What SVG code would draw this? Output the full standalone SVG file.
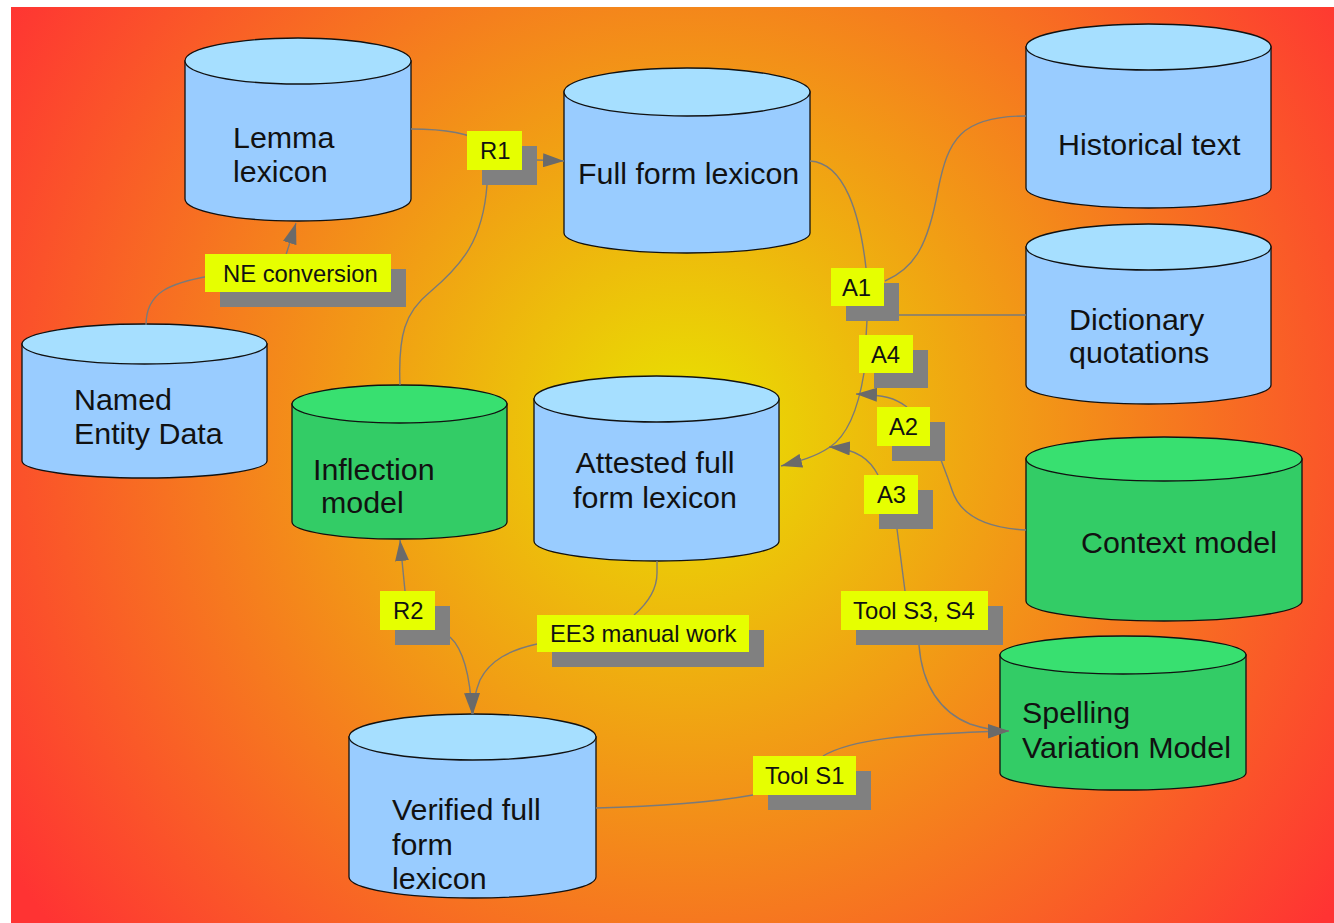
<svg xmlns="http://www.w3.org/2000/svg" width="1334" height="923" viewBox="0 0 1334 923">
<defs>
<radialGradient id="bg" gradientUnits="userSpaceOnUse" cx="685" cy="430" r="805">
<stop offset="0" stop-color="#e8e400"/>
<stop offset="1" stop-color="#ff3333"/>
</radialGradient>
<marker id="arr" markerUnits="userSpaceOnUse" markerWidth="21" markerHeight="14" refX="21" refY="7" orient="auto">
<path d="M0,0 L21,7 L0,14 Z" fill="#6a6a6a"/>
</marker>
<style>
.body-b{fill:#99ccff;stroke:#111;stroke-width:1.3}
.top-b{fill:#a6dfff;stroke:#111;stroke-width:1.3}
.body-g{fill:#33cc66;stroke:#111;stroke-width:1.3}
.top-g{fill:#38e070;stroke:#111;stroke-width:1.3}
.t{font-family:"Liberation Sans",Arial,sans-serif;font-size:30.4px;fill:#111}
.lt{font-family:"Liberation Sans",Arial,sans-serif;font-size:23.8px;fill:#111}
.lab{fill:#e6ff00}
.sh{fill:#808080}
.c{fill:none;stroke:#7a7a7a;stroke-width:1.4}
</style>
</defs>
<rect x="0" y="0" width="1334" height="923" fill="#ffffff"/>
<rect x="11" y="7" width="1323" height="916" fill="url(#bg)"/>

<g id="lemma-lexicon">
<path class="body-b" d="M185,61 V199 A113,22 0 0 0 411,199 V61 Z"/>
<ellipse class="top-b" cx="298" cy="61" rx="113" ry="23"/>
<text class="t" x="233" y="148">Lemma</text>
<text class="t" x="233" y="182">lexicon</text>
</g>
<g id="full-form-lexicon">
<path class="body-b" d="M564,92 V233 A123,20 0 0 0 810,233 V92 Z"/>
<ellipse class="top-b" cx="687" cy="92" rx="123" ry="24"/>
<text class="t" x="578" y="184">Full form lexicon</text>
</g>
<g id="historical-text">
<path class="body-b" d="M1026,47 V188 A122.5,20 0 0 0 1271,188 V47 Z"/>
<ellipse class="top-b" cx="1148.5" cy="47" rx="122.5" ry="23"/>
<text class="t" x="1058" y="155">Historical text</text>
</g>
<g id="dictionary-quotations">
<path class="body-b" d="M1026,247 V385 A122.5,19 0 0 0 1271,385 V247 Z"/>
<ellipse class="top-b" cx="1148.5" cy="247" rx="122.5" ry="23"/>
<text class="t" x="1069" y="330">Dictionary</text>
<text class="t" x="1069" y="363">quotations</text>
</g>
<g id="named-entity-data">
<path class="body-b" d="M22,344 V461 A122.5,17 0 0 0 267,461 V344 Z"/>
<ellipse class="top-b" cx="144.5" cy="344" rx="122.5" ry="20"/>
<text class="t" x="74" y="410">Named</text>
<text class="t" x="74" y="444">Entity Data</text>
</g>
<g id="inflection-model">
<path class="body-g" d="M292,404 V522 A107.5,17 0 0 0 507,522 V404 Z"/>
<ellipse class="top-g" cx="399.5" cy="404" rx="107.5" ry="19"/>
<text class="t" x="313" y="480">Inflection</text>
<text class="t" x="321" y="513">model</text>
</g>
<g id="attested-full-form-lexicon">
<path class="body-b" d="M534,399 V541 A122.5,20 0 0 0 779,541 V399 Z"/>
<ellipse class="top-b" cx="656.5" cy="399" rx="122.5" ry="23"/>
<text class="t" x="655" y="473" text-anchor="middle">Attested full</text>
<text class="t" x="655" y="508" text-anchor="middle">form lexicon</text>
</g>
<g id="verified-full-form-lexicon">
<path class="body-b" d="M349,737 V877 A123.5,21 0 0 0 596,877 V737 Z"/>
<ellipse class="top-b" cx="472.5" cy="737" rx="123.5" ry="23"/>
<text class="t" x="392" y="820">Verified full</text>
<text class="t" x="392" y="855">form</text>
<text class="t" x="392" y="889">lexicon</text>
</g>
<g id="context-model">
<path class="body-g" d="M1026,459 V601 A138,20 0 0 0 1302,601 V459 Z"/>
<ellipse class="top-g" cx="1164" cy="459" rx="138" ry="22"/>
<text class="t" x="1081" y="553">Context model</text>
</g>
<g id="spelling-variation-model">
<path class="body-g" d="M1000,655 V773 A123,17 0 0 0 1246,773 V655 Z"/>
<ellipse class="top-g" cx="1123" cy="655" rx="123" ry="19"/>
<text class="t" x="1022" y="723">Spelling</text>
<text class="t" x="1022" y="758">Variation Model</text>
</g>

<g id="connectors">
<path class="c" marker-end="url(#arr)" d="M411,129 C445,129 470,133 490,145 C505,155 520,160 537,160 L564,161"/>
<path class="c" d="M400,385 C398,335 405,312 430,292 C462,265 483,240 487,185"/>
<path class="c" marker-end="url(#arr)" d="M146,325 C146,292 170,283 210,276 L285,258 L296,223"/>
<path class="c" d="M810,161 C845,163 860,215 866,268"/>
<path class="c" d="M1026,116 C960,116 948,140 938,190 C928,245 915,268 885,281"/>
<path class="c" d="M1026,315 L898,315"/>
<path class="c" marker-end="url(#arr)" d="M867,320 L864,373 C858,410 848,435 830,447 C815,457 800,461 781,466"/>
<path class="c" marker-end="url(#arr)" d="M1026,530 C985,528 960,515 952,490 C947,475 944,468 941,460 M907,407 C895,398 885,395 856,394"/>
<path class="c" marker-end="url(#arr)" d="M878,475 C870,460 858,449 829,447"/>
<path class="c" marker-end="url(#arr)" d="M897,529 L905,591 M919,645 C922,685 940,712 970,724 C985,729 995,731 1009,731"/>
<path class="c" marker-end="url(#arr)" d="M596,808 C680,806 725,800 753,795 M823,756 C850,740 900,734 1009,731"/>
<path class="c" marker-end="url(#arr)" d="M657,561 L657,573 C657,590 648,603 634,615 M537,644 C510,650 490,660 480,680 C476,690 473,700 473,714"/>
<path class="c" marker-end="url(#arr)" d="M450,637 C462,648 470,670 472,714"/>
<path class="c" marker-end="url(#arr)" d="M405,591 L400,540"/>
</g>

<g id="label-ne-conversion">
<rect class="sh" x="220" y="269" width="186" height="38"/>
<rect class="lab" x="205" y="254" width="186" height="38"/>
<text class="lt" x="223" y="282">NE conversion</text>
</g>
<g id="label-r1">
<rect class="sh" x="482" y="146" width="55" height="39"/>
<rect class="lab" x="467" y="131" width="55" height="39"/>
<text class="lt" x="480" y="159">R1</text>
</g>
<g id="label-a1">
<rect class="sh" x="846" y="283" width="53" height="38"/>
<rect class="lab" x="831" y="268" width="53" height="38"/>
<text class="lt" x="842" y="296">A1</text>
</g>
<g id="label-a4">
<rect class="sh" x="874" y="350" width="54" height="38"/>
<rect class="lab" x="859" y="335" width="54" height="38"/>
<text class="lt" x="871" y="363">A4</text>
</g>
<g id="label-a2">
<rect class="sh" x="892" y="422" width="53" height="39"/>
<rect class="lab" x="877" y="407" width="53" height="39"/>
<text class="lt" x="889" y="435">A2</text>
</g>
<g id="label-a3">
<rect class="sh" x="879" y="490" width="54" height="39"/>
<rect class="lab" x="864" y="475" width="54" height="39"/>
<text class="lt" x="877" y="503">A3</text>
</g>
<g id="label-r2">
<rect class="sh" x="395" y="606" width="55" height="39"/>
<rect class="lab" x="380" y="591" width="55" height="39"/>
<text class="lt" x="393" y="619">R2</text>
</g>
<g id="label-ee3">
<rect class="sh" x="552" y="630" width="212" height="37"/>
<rect class="lab" x="537" y="615" width="212" height="37"/>
<text class="lt" x="550" y="642">EE3 manual work</text>
</g>
<g id="label-tool-s3-s4">
<rect class="sh" x="856" y="606" width="147" height="39"/>
<rect class="lab" x="841" y="591" width="147" height="39"/>
<text class="lt" x="853" y="619">Tool S3, S4</text>
</g>
<g id="label-tool-s1">
<rect class="sh" x="768" y="771" width="103" height="39"/>
<rect class="lab" x="753" y="756" width="103" height="39"/>
<text class="lt" x="765" y="784">Tool S1</text>
</g>
</svg>
